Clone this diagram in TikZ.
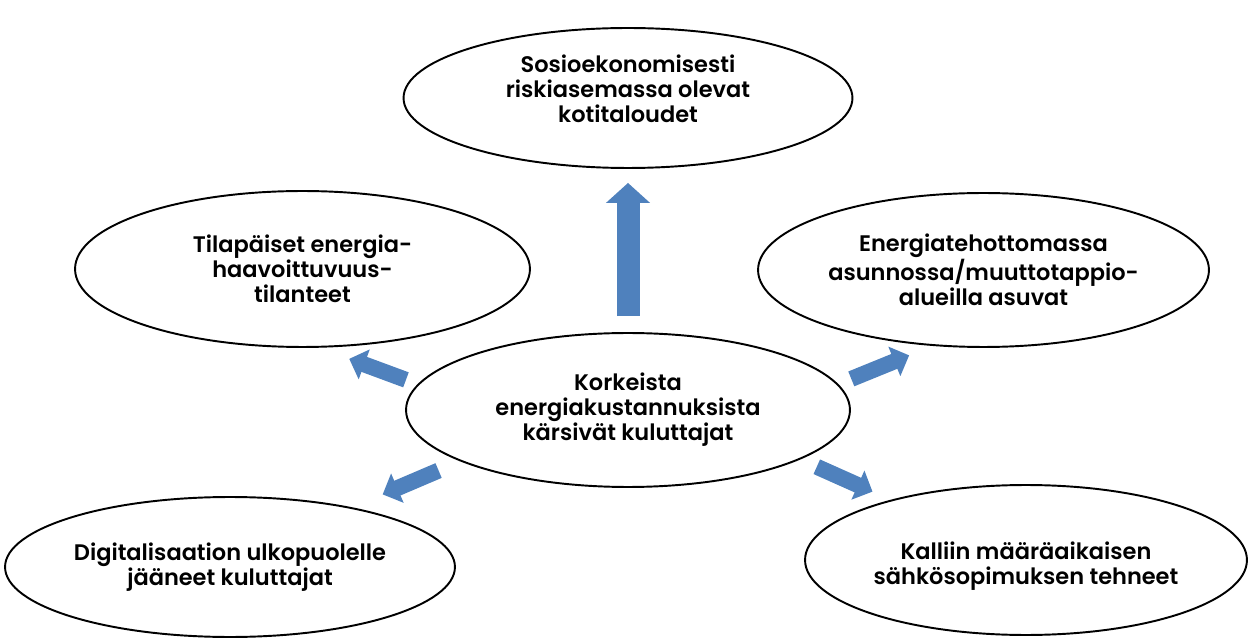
\documentclass[tikz,border=0pt]{standalone}
\usepackage{fontspec}
\usepackage{tikz}
\usepackage{xcolor}
\usetikzlibrary{arrows.meta, shapes.geometric}
\newfontfamily\gothic{Poppins}[BoldFont={Poppins SemiBold}]
\definecolor{arrowblue}{HTML}{4F81BD}

\begin{document}
\begin{tikzpicture}[x=0.02cm, y=-0.02cm,
      group/.style={draw, ellipse, line width=1.1pt, inner sep=0pt,
                    align=center, font=\gothic\bfseries\fontsize{12.8}{14.2}\selectfont},
      bigarr/.style={arrowblue, line width=0.46cm,
                     -{Triangle[length=0.4cm, width=0.86cm]}},
      smallarr/.style={arrowblue, line width=0.32cm,
                       -{Triangle[length=0.32cm, width=0.62cm]}},
    ]
    \useasboundingbox (0,0) rectangle (1251,638);

    % ── Centre: the consumers ──
    \node[group, minimum width=8.88cm, minimum height=3.08cm]
          (hub) at (628,410) {Korkeista\\energiakustannuksista\\kärsivät kuluttajat};

    % ── Groups round it ──
    \node[group, minimum width=8.98cm, minimum height=2.8cm, text depth=0.36cm]
          (socio) at (628,98) {Sosioekonomisesti\\riskiasemassa olevat\\kotitaloudet};
    \node[group, minimum width=9.1cm, minimum height=3.12cm]
          (tilap) at (302.5,269) {Tilapäiset energia-\\haavoittuvuus-\\tilanteet};
    \node[group, minimum width=9.02cm, minimum height=3.08cm]
          (tehoton) at (983.5,270) {Energiatehottomassa\\asunnossa/muuttotappio-\\alueilla asuvat};
    \node[group, minimum width=9.0cm, minimum height=2.8cm]
          (digi) at (230,567) {Digitalisaation ulkopuolelle\\jääneet kuluttajat};
    \node[group, minimum width=8.84cm, minimum height=3.0cm, text height=1.11cm]
          (sopimus) at (1026,560) {Kalliin määräaikaisen\\sähkösopimuksen tehneet};

    % block arrows out of the centre
    \draw[bigarr, shorten <=0.32cm, shorten >=0.28cm] (hub.north) -- (socio.south);
    \draw[smallarr, shorten <=0.25cm, shorten >=0.64cm] (hub.173) -- (tilap.282);
    \draw[smallarr, shorten <=0.28cm, shorten >=0.5cm]  (hub.7)   -- (tehoton.236);
    \draw[smallarr, shorten <=0.47cm, shorten >=0.66cm] (hub.197) -- (digi.26);
    \draw[smallarr, shorten <=0.36cm, shorten >=0.4cm]  (hub.344) -- (sopimus.156);
  \end{tikzpicture}
\end{document}
